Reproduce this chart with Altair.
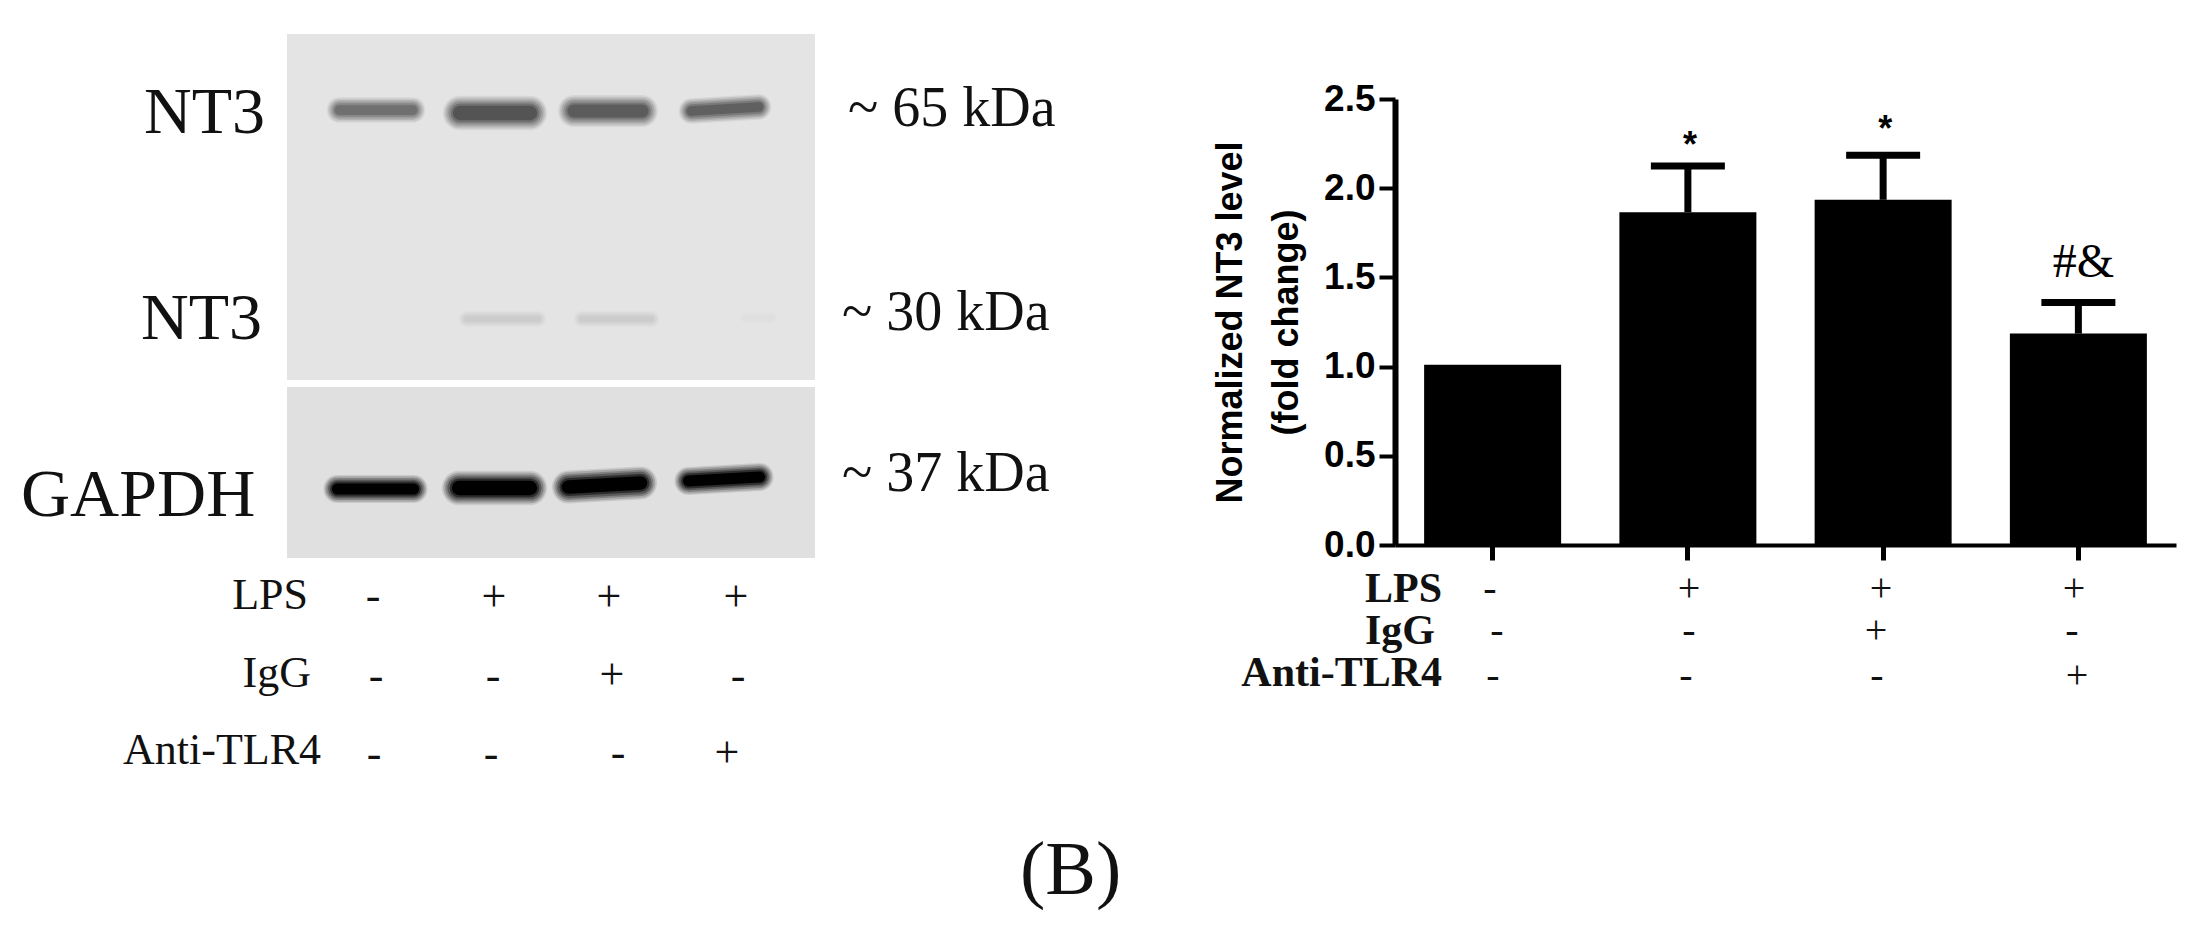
import altair as alt
import pandas as pd

# ---- bar panel values
groups = ["Control", "LPS", "LPS+IgG", "LPS+Anti-TLR4"]
means = [1.01, 1.865, 1.935, 1.185]
err_tops = [1.01, 2.125, 2.185, 1.36]
notes = ["", "*", "*", "#&"]
note_y = [None, 2.27, 2.36, 1.50]
y_ticks = [0, 0.5, 1.0, 1.5, 2.0, 2.5]

# ---- blot picture, read in picture pixels
blot_left = [287, 287]
blot_right = [815, 815]
blot_top = [34, 387]
blot_bottom = [380, 558]
blot_fill = ["#e4e4e4", "#e0e0e0"]

band_left = [332, 449, 564, 684, 463, 578, 744, 329, 448, 558, 680]
band_right = [420, 541, 652, 766, 542, 655, 773, 422, 541, 651, 768]
band_y_left = [110, 113, 111, 111, 319, 319, 318, 489, 488, 487, 481]
band_y_right = [110, 113, 111, 107, 319, 319, 318, 489, 488, 483, 477]
band_thick = [15, 22, 20, 15, 8, 8, 4, 17, 22, 21, 17]
band_core = [112, 84, 92, 96, 204, 204, 222, 0, 0, 0, 0]
band_bg = [228, 228, 228, 228, 228, 228, 228, 224, 224, 224, 224]

# ---- text
blot_labels = ["NT3", "NT3", "GAPDH", "~ 65 kDa", "~ 30 kDa", "~ 37 kDa", "(B)"]
blot_label_x = [144, 141, 21, 848, 842, 842, 1020]
blot_label_y = [133, 339, 516, 126, 330, 491, 894]
blot_label_size = [66, 66, 68, 56, 56, 56, 76]

left_rows = ["LPS", "IgG", "Anti-TLR4"]
left_row_x = [308, 311, 321]
left_row_y = [609, 687, 764]
left_signs = ["-", "+", "+", "+", "-", "-", "+", "-", "-", "-", "-", "+"]
left_sign_x = [373, 494, 609, 736, 376, 493, 612, 738, 374, 491, 618, 727]
left_sign_y = [610, 611, 611, 611, 690, 690, 689, 690, 768, 768, 767, 767]

right_rows = ["LPS", "IgG", "Anti-TLR4"]
right_row_x = [1442, 1435, 1442]
right_row_y = [602, 644, 686]
right_signs = ["-", "+", "+", "+", "-", "-", "+", "-", "-", "-", "-", "+"]
right_sign_x = [1490, 1689, 1881, 2074, 1497, 1689, 1876, 2072, 1493, 1686, 1877, 2077]
right_sign_y = [601, 601, 601, 601, 643, 643, 643, 643, 688, 688, 688, 688]

PLOT_X, PLOT_Y, PLOT_W, PLOT_H = 1395, 99, 781, 446
PIC_W, PIC_H = 2199, 945

pic_x = alt.Scale(domain=[0, PIC_W], range=[-PLOT_X, PIC_W - PLOT_X], nice=False, zero=False)
pic_y = alt.Scale(domain=[0, PIC_H], range=[-PLOT_Y, PIC_H - PLOT_Y], nice=False, zero=False)


def X(f):
    return alt.X(f, type="quantitative", scale=pic_x, axis=None)


def Y(f):
    return alt.Y(f, type="quantitative", scale=pic_y, axis=None)


layers = []

blot_df = pd.DataFrame({"x": blot_left, "x2": blot_right, "y": blot_top, "y2": blot_bottom, "c": blot_fill})
layers.append(
    alt.Chart(blot_df).mark_rect().encode(
        x=X("x"), x2="x2", y=Y("y"), y2="y2", color=alt.Color("c:N", scale=None, legend=None)
    )
)

# soft-edged bands: nested round-capped strokes, outer light to inner dark
levels = [0.1, 0.25, 0.42, 0.6, 0.8, 1.0]
for frac in levels:
    rows = []
    for i in range(len(band_left)):
        t = band_thick[i]
        g = int(round(band_bg[i] + (band_core[i] - band_bg[i]) * frac))
        col = f"rgb({g},{g},{g})"
        w = max(1.0, t * (1.3 - 0.65 * frac) + 8 * (1 - frac))
        rows.append({"id": i, "x": band_left[i] + t / 2, "y": band_y_left[i], "c": col, "w": w})
        rows.append({"id": i, "x": band_right[i] - t / 2, "y": band_y_right[i], "c": col, "w": w})
    layers.append(
        alt.Chart(pd.DataFrame(rows)).mark_line(strokeCap="round").encode(
            x=X("x"), y=Y("y"), detail="id:N",
            color=alt.Color("c:N", scale=None, legend=None),
            strokeWidth=alt.StrokeWidth("w:Q", scale=None, legend=None),
        )
    )


def text_layer(labels, xs, ys, sizes, align="left", weight="normal", font="Liberation Serif"):
    df = pd.DataFrame({"t": labels, "x": xs, "y": ys, "s": sizes})
    return alt.Chart(df).mark_text(
        font=font, align=align, baseline="alphabetic", fontWeight=weight, color="#111111"
    ).encode(
        x=X("x"), y=Y("y"), text="t:N", size=alt.Size("s:Q", scale=None, legend=None)
    )


layers.append(text_layer(blot_labels, blot_label_x, blot_label_y, blot_label_size))
layers.append(text_layer(left_rows, left_row_x, left_row_y, [44] * 3, align="right"))
layers.append(text_layer(left_signs, left_sign_x, left_sign_y, [44] * 12, align="center"))
layers.append(text_layer(right_rows, right_row_x, right_row_y, [42] * 3, align="right", weight="bold"))
layers.append(text_layer(right_signs, right_sign_x, right_sign_y, [40] * 12, align="center"))

# ---- bar panel
bar_df = pd.DataFrame({"g": groups, "m": means, "e": err_tops, "n": notes, "ny": note_y})
x_band = alt.Scale(domain=groups, paddingInner=0, paddingOuter=0)
y_val = alt.Scale(domain=[0, 2.5], nice=False, zero=True)
no_x = alt.X("g:N", scale=x_band, axis=None)

bars = alt.Chart(bar_df).mark_bar(size=137, color="black").encode(
    x=alt.X(
        "g:N", scale=x_band,
        axis=alt.Axis(
            title=None, labels=False, ticks=True, tickSize=15, tickWidth=5, tickColor="black",
            domainColor="black", domainWidth=4,
        ),
    ),
    y=alt.Y(
        "m:Q", scale=y_val,
        axis=alt.Axis(
            values=y_ticks, format=".1f", grid=False, tickSize=16, tickWidth=4, tickColor="black",
            domainColor="black", domainWidth=6, labelFont="Liberation Sans", labelFontWeight="bold",
            labelFontSize=37, labelColor="black", labelPadding=4,
            title=["Normalized NT3 level", "(fold change)"],
            titleFont="Liberation Sans", titleFontWeight="bold", titleFontSize=36, titleColor="black",
            titleLineHeight=56, titlePadding=18,
        ),
    ),
)

err_df = bar_df[bar_df["e"] > bar_df["m"]]
stems = alt.Chart(err_df).mark_rule(strokeWidth=7, color="black").encode(
    x=no_x, y=alt.Y("m:Q", scale=y_val, axis=None), y2="e:Q"
)
caps = alt.Chart(err_df).mark_tick(size=74, thickness=7, color="black", opacity=1).encode(
    x=no_x, y=alt.Y("e:Q", scale=y_val, axis=None)
)
note_df = bar_df[bar_df["n"] != ""]
stars = alt.Chart(note_df[note_df["n"] == "*"]).mark_text(
    font="Liberation Sans", fontWeight="bold", fontSize=36, baseline="middle", dy=6, dx=2, color="black"
).encode(x=no_x, y=alt.Y("ny:Q", scale=y_val, axis=None), text="n:N")
hash_amp = alt.Chart(note_df[note_df["n"] != "*"]).mark_text(
    font="Liberation Serif", fontSize=48, baseline="alphabetic", dx=5, color="black"
).encode(x=no_x, y=alt.Y("ny:Q", scale=y_val, axis=None), text="n:N")

layers += [bars, stems, caps, stars, hash_amp]

chart = alt.layer(*layers).resolve_scale(
    x="independent", y="independent", color="independent", size="independent", strokeWidth="independent"
).properties(
    width=PLOT_W,
    height=PLOT_H,
    background="white",
    padding={"left": PLOT_X - 8, "top": PLOT_Y - 8, "right": 15, "bottom": PIC_H - PLOT_Y - PLOT_H - 8},
    autosize=alt.AutoSizeParams(type="none"),
).configure_view(stroke=None)

chart.save("out.html", embed_options={"renderer": "svg", "actions": False})
